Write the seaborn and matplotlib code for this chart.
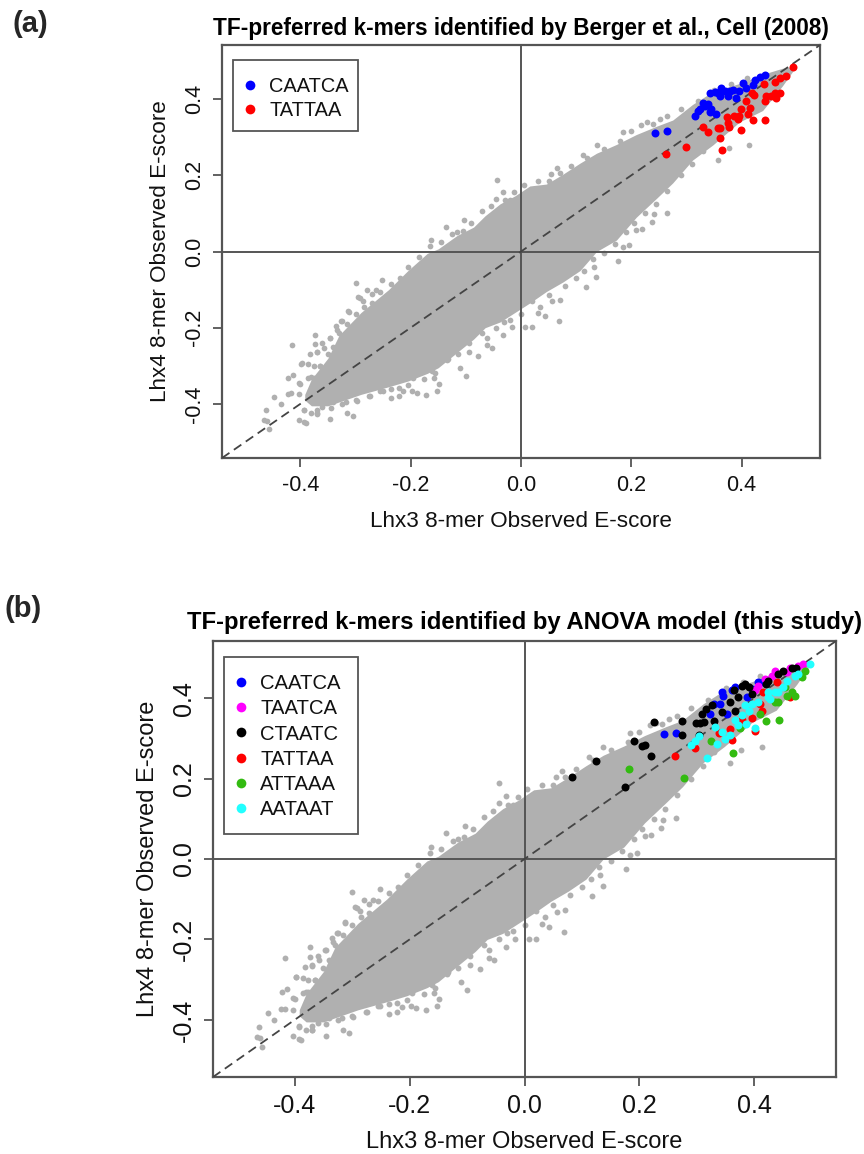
#!/usr/bin/env python3
"""Lhx3 vs Lhx4 8-mer E-scores, two panels, TF-preferred k-mers highlighted.

Grey cloud is the same data in both panels: an envelope read off the picture
plus the loose dots around its rim.
"""

import matplotlib.lines as mlines
import matplotlib.patches as mpatches
import matplotlib.pyplot as plt
import pandas as pd
import seaborn as sns

# envelope of the dense grey cloud
CLOUD_X = [-0.392, -0.38, -0.35, -0.33, -0.29, -0.24, -0.205, -0.17, -0.15, -0.116, -0.086,
           -0.065, -0.038, -0.011, 0.016, 0.046, 0.076, 0.107, 0.137, 0.173, 0.209,
           0.246, 0.275, 0.311, 0.348, 0.396, 0.438, 0.474, 0.496]
CLOUD_UPPER = [-0.375, -0.335, -0.28, -0.22, -0.16, -0.10, -0.05, -0.005, 0.007, 0.042, 0.064,
               0.094, 0.125, 0.146, 0.172, 0.177, 0.203, 0.232, 0.258, 0.281, 0.307,
               0.329, 0.345, 0.386, 0.42, 0.441, 0.465, 0.481, 0.486]
CLOUD_LOWER = [-0.39, -0.405, -0.405, -0.395, -0.375, -0.355, -0.34, -0.32, -0.305, -0.265, -0.23,
               -0.20, -0.185, -0.16, -0.135, -0.105, -0.08, -0.05, 0.0, 0.03, 0.09,
               0.14, 0.18, 0.24, 0.28, 0.34, 0.37, 0.435, 0.48]

# dots on the rim of the cloud
EDGE_X = [-0.38, -0.365, -0.35, -0.34, -0.33, -0.315, -0.30, -0.285, -0.27, -0.255,
          -0.235, -0.22, -0.205, -0.185, -0.165, -0.145, -0.125, -0.105, -0.09, -0.07,
          -0.055, -0.02, -0.012, 0.005, 0.03, 0.05, 0.07, 0.09, 0.12, 0.15,
          0.18, 0.20, 0.24, 0.265, 0.29, 0.32, 0.35, 0.38, 0.41,
          -0.37, -0.345, -0.325, -0.30, -0.275, -0.255, -0.235, -0.205, -0.175, -0.155,
          -0.135, -0.115, -0.095, -0.07, -0.045, -0.02, 0.0, 0.02, 0.05, 0.08,
          0.10, 0.115, 0.13, 0.15, 0.17, 0.19, 0.205, 0.225, 0.245, 0.265,
          0.29, 0.31, 0.33,
          -0.402, -0.386, -0.376, -0.398, -0.386, -0.376, -0.364, -0.369, -0.358, -0.36,
          -0.346, -0.334, -0.326, -0.312, -0.291, -0.403, -0.393, -0.381, -0.369, -0.36,
          -0.341, -0.317, -0.298, -0.274, -0.251, -0.222, -0.196, -0.161, -0.133, -0.095,
          -0.061, -0.031]
EDGE_Y = [-0.33, -0.30, -0.27, -0.25, -0.215, -0.19, -0.165, -0.145, -0.135, -0.105,
          -0.085, -0.07, -0.04, -0.015, 0.015, 0.025, 0.045, 0.055, 0.075, 0.105,
          0.12, 0.135, 0.155, 0.175, 0.185, 0.185, 0.205, 0.225, 0.245, 0.27,
          0.29, 0.315, 0.335, 0.355, 0.375, 0.395, 0.425, 0.44, 0.455,
          -0.415, -0.41, -0.40, -0.39, -0.38, -0.365, -0.36, -0.35, -0.335, -0.32,
          -0.285, -0.27, -0.24, -0.215, -0.20, -0.18, -0.165, -0.13, -0.115, -0.09,
          -0.07, -0.05, -0.02, -0.005, 0.02, 0.05, 0.075, 0.10, 0.125, 0.16,
          0.20, 0.23, 0.265,
          -0.346, -0.333, -0.331, -0.294, -0.296, -0.301, -0.301, -0.264, -0.252, -0.24,
          -0.227, -0.207, -0.183, -0.158, -0.123, -0.375, -0.417, -0.425, -0.425, -0.407,
          -0.395, -0.395, -0.393, -0.38, -0.365, -0.358, -0.333, -0.314, -0.281, -0.264,
          -0.227, -0.185]

# loose outliers
LOOSE_X = [-0.462, -0.466, -0.46, -0.456, -0.447, -0.435, -0.423, -0.417, -0.422, -0.414,
           -0.416, -0.402, -0.393, -0.393, -0.389, -0.346, -0.315, -0.305, -0.37, -0.40,
           -0.397, -0.382, -0.373, -0.373, -0.37, -0.347, -0.335, -0.325, -0.313, -0.30,
           -0.295, -0.286, -0.279, -0.27, -0.263, -0.252, -0.236, -0.221, -0.213, -0.198,
           -0.188, -0.172, -0.153, -0.148, -0.157, -0.11, -0.10, -0.078, -0.053, -0.062,
           -0.044, -0.033, -0.045, -0.029, -0.103, -0.136, -0.116, -0.163, 0.054, 0.065,
           0.112, 0.137, 0.184, 0.218, 0.069, 0.043, 0.035, 0.031, 0.057, 0.07,
           0.118, 0.136, 0.132, 0.176, 0.184, 0.195, 0.209, 0.22, 0.238, 0.241,
           0.264, 0.02, 0.007, -0.033, -0.017, 0.357, 0.413, 0.377, 0.252, 0.228]
LOOSE_Y = [-0.417, -0.443, -0.446, -0.467, -0.383, -0.40, -0.373, -0.372, -0.331, -0.324,
           -0.245, -0.441, -0.415, -0.448, -0.45, -0.439, -0.424, -0.433, -0.426, -0.348,
           -0.293, -0.268, -0.218, -0.244, -0.265, -0.227, -0.196, -0.183, -0.157, -0.082,
           -0.12, -0.129, -0.102, -0.112, -0.102, -0.074, -0.385, -0.38, -0.367, -0.365,
           -0.371, -0.376, -0.365, -0.348, -0.333, -0.306, -0.326, -0.274, -0.252, -0.245,
           0.188, 0.156, 0.138, 0.135, 0.083, 0.065, 0.05, 0.031, 0.204, 0.219,
           0.253, 0.279, 0.313, 0.333, -0.182, -0.17, -0.145, -0.161, -0.131, -0.128,
           -0.093, -0.067, -0.041, -0.024, 0.011, 0.016, 0.057, 0.059, 0.078, 0.098,
           0.102, -0.198, -0.198, -0.22, -0.198, 0.239, 0.279, 0.271, 0.349, 0.339]

# panel (a) k-mers
A_CAATCA_X = [0.243, 0.264, 0.315, 0.321, 0.330, 0.339, 0.345, 0.353, 0.343, 0.342, 0.351, 0.363, 0.369, 0.375,
              0.360, 0.384, 0.390, 0.396, 0.402, 0.408, 0.424, 0.433, 0.442, 0.420, 0.357, 0.378, 0.333, 0.324]
A_CAATCA_Y = [0.312, 0.316, 0.355, 0.368, 0.390, 0.386, 0.373, 0.361, 0.366, 0.416, 0.419, 0.429, 0.420, 0.407,
              0.407, 0.425, 0.403, 0.420, 0.442, 0.429, 0.451, 0.457, 0.464, 0.438, 0.416, 0.420, 0.381, 0.373]
A_TATTAA_X = [0.262, 0.299, 0.33, 0.339, 0.357, 0.36, 0.361, 0.364, 0.374, 0.375, 0.377, 0.387, 0.395, 0.399, 0.393, 0.411, 0.416,
              0.42, 0.443, 0.399, 0.407, 0.418, 0.422, 0.443, 0.445, 0.454, 0.46, 0.469, 0.463, 0.46, 0.469, 0.481, 0.44, 0.493]
A_TATTAA_Y = [0.257, 0.275, 0.327, 0.314, 0.323, 0.323, 0.297, 0.266, 0.352, 0.338, 0.326, 0.355, 0.355, 0.373, 0.349, 0.362, 0.377,
              0.345, 0.346, 0.319, 0.396, 0.416, 0.412, 0.394, 0.407, 0.407, 0.416, 0.416, 0.403, 0.446, 0.455, 0.461, 0.439, 0.483]

# panel (b) k-mers
B_CAATCA_X = [0.242, 0.263, 0.323, 0.329, 0.340, 0.343, 0.352, 0.361, 0.366, 0.387, 0.407, 0.415, 0.395, 0.346]
B_CAATCA_Y = [0.310, 0.314, 0.361, 0.386, 0.386, 0.415, 0.361, 0.419, 0.427, 0.402, 0.439, 0.439, 0.423, 0.406]
B_TAATCA_X = [0.401, 0.407, 0.418, 0.430, 0.436, 0.456, 0.476, 0.485, 0.462]
B_TAATCA_Y = [0.419, 0.431, 0.447, 0.456, 0.468, 0.464, 0.480, 0.486, 0.476]
B_CTAATC_X = [0.082, 0.125, 0.175, 0.190, 0.205, 0.209, 0.220, 0.226, 0.274, 0.274, 0.303, 0.299, 0.306, 0.313, 0.309, 0.315, 0.329,
              0.326, 0.358, 0.343, 0.366, 0.372, 0.364, 0.378, 0.384, 0.390, 0.395, 0.421, 0.424, 0.441, 0.450, 0.465, 0.473]
B_CTAATC_Y = [0.203, 0.243, 0.178, 0.293, 0.281, 0.283, 0.256, 0.340, 0.344, 0.308, 0.308, 0.338, 0.338, 0.340, 0.361, 0.373, 0.342,
              0.382, 0.390, 0.365, 0.367, 0.402, 0.419, 0.431, 0.435, 0.427, 0.409, 0.435, 0.443, 0.460, 0.468, 0.474, 0.476]
B_TATTAA_X = [0.261, 0.297, 0.338, 0.358, 0.361, 0.395, 0.401, 0.410, 0.415, 0.378, 0.439, 0.462, 0.413]
B_TATTAA_Y = [0.256, 0.275, 0.314, 0.322, 0.295, 0.350, 0.317, 0.386, 0.415, 0.345, 0.439, 0.402, 0.369]
B_ATTAAA_X = [0.181, 0.278, 0.325, 0.363, 0.420, 0.443, 0.410, 0.375, 0.436, 0.441, 0.456, 0.465, 0.470, 0.453, 0.482, 0.488]
B_ATTAAA_Y = [0.224, 0.201, 0.294, 0.264, 0.342, 0.345, 0.361, 0.326, 0.390, 0.390, 0.406, 0.415, 0.406, 0.427, 0.452, 0.468]
B_AATAAT_X = [0.317, 0.290, 0.296, 0.303, 0.331, 0.343, 0.335, 0.348, 0.358, 0.366, 0.372, 0.378, 0.385, 0.384,
              0.395, 0.390, 0.401, 0.424, 0.427, 0.436, 0.441, 0.450, 0.456, 0.470, 0.476, 0.496, 0.424, 0.407]
B_AATAAT_Y = [0.250, 0.283, 0.293, 0.305, 0.328, 0.316, 0.285, 0.298, 0.308, 0.345, 0.332, 0.357, 0.336, 0.382,
              0.386, 0.369, 0.326, 0.415, 0.398, 0.415, 0.415, 0.427, 0.443, 0.456, 0.460, 0.484, 0.402, 0.390]

TICKS = [-0.4, -0.2, 0.0, 0.2, 0.4]
TICK_LABELS = ["-0.4", "-0.2", "0.0", "0.2", "0.4"]
LIM = (-0.542, 0.542)
GREY = "#B0B0B0"
LINE = "#555555"
TEXT = "#111111"
WIDTH, HEIGHT = 864, 1154

PANEL_A = [("CAATCA", A_CAATCA_X, A_CAATCA_Y, "#0000FF"),
           ("TATTAA", A_TATTAA_X, A_TATTAA_Y, "#FF0000")]
PANEL_B = [("CAATCA", B_CAATCA_X, B_CAATCA_Y, "#0000FF"),
           ("TAATCA", B_TAATCA_X, B_TAATCA_Y, "#FF00FF"),
           ("CTAATC", B_CTAATC_X, B_CTAATC_Y, "#000000"),
           ("TATTAA", B_TATTAA_X, B_TATTAA_Y, "#FF0000"),
           ("ATTAAA", B_ATTAAA_X, B_ATTAAA_Y, "#33BB11"),
           ("AATAAT", B_AATAAT_X, B_AATAAT_Y, "#22FFFF")]


def add_axes_px(fig, left, right, top, bottom):
    return fig.add_axes([left / WIDTH, 1 - bottom / HEIGHT,
                         (right - left) / WIDTH, (bottom - top) / HEIGHT])


def draw_panel(ax, groups, title, tick_size, label_size, title_size, legend_size,
               legend_box, legend_spacing, dot, grey_dot, xpad, ypad, title_pad):
    ax.fill_between(CLOUD_X, CLOUD_LOWER, CLOUD_UPPER, color=GREY, linewidth=0, zorder=1)
    rim = pd.DataFrame({"x": EDGE_X + LOOSE_X, "y": EDGE_Y + LOOSE_Y})
    sns.scatterplot(data=rim, x="x", y="y", color=GREY, s=grey_dot, linewidth=0, ax=ax, zorder=2)

    ax.axhline(0, color=LINE, linewidth=1.4, zorder=3)
    ax.axvline(0, color=LINE, linewidth=1.4, zorder=3)
    ax.plot(LIM, LIM, color="#444444", linewidth=1.3, dashes=(5, 3), zorder=3)

    for name, xs, ys, color in groups:
        df = pd.DataFrame({"x": xs, "y": ys})
        sns.scatterplot(data=df, x="x", y="y", color=color, s=dot, linewidth=0, ax=ax, zorder=4)

    ax.set_xlim(LIM)
    ax.set_ylim(LIM)
    ax.set_xticks(TICKS, TICK_LABELS)
    ax.set_yticks(TICKS, TICK_LABELS)
    ax.tick_params(axis="both", length=6.5, width=1.3, color=LINE, labelcolor=TEXT,
                   labelsize=tick_size, pad=6)
    ax.tick_params(axis="y", labelrotation=90)
    for lab in ax.get_yticklabels():
        lab.set_va("center")
    for spine in ax.spines.values():
        spine.set_visible(True)
        spine.set_color(LINE)
        spine.set_linewidth(1.6)

    ax.set_xlabel("Lhx3 8-mer Observed E-score", fontsize=label_size, color=TEXT, labelpad=xpad)
    ax.set_ylabel("Lhx4 8-mer Observed E-score", fontsize=label_size, color=TEXT, labelpad=ypad)
    ax.set_title(title, fontsize=title_size, fontweight="bold", color="#000000", pad=title_pad)

    # frame drawn by hand, the padding in the picture is not even on all sides
    left, right, top, bottom = legend_box
    frame = mpatches.Rectangle((left / WIDTH, 1 - bottom / HEIGHT),
                               (right - left) / WIDTH, (bottom - top) / HEIGHT,
                               transform=ax.figure.transFigure, facecolor="white",
                               edgecolor=LINE, linewidth=1.3, zorder=5)
    ax.add_patch(frame)

    handles = [mlines.Line2D([], [], linestyle="", marker="o", markersize=7,
                             markerfacecolor=color, markeredgewidth=0, label=name)
               for name, _x, _y, color in groups]
    leg = ax.legend(handles=handles, loc="upper left",
                    bbox_to_anchor=((left + 7) / WIDTH, 1 - (top + 17) / HEIGHT),
                    bbox_transform=ax.figure.transFigure, borderaxespad=0, borderpad=0,
                    frameon=False, fontsize=legend_size, labelcolor=TEXT,
                    labelspacing=legend_spacing, handlelength=1, handletextpad=0.45)
    leg.set_zorder(6)


def main() -> None:
    sns.set_theme(style="ticks")
    plt.rcParams["font.family"] = ["Liberation Sans", "DejaVu Sans"]

    fig = plt.figure(figsize=(WIDTH / 100, HEIGHT / 100), dpi=100)

    ax_a = add_axes_px(fig, 222, 820, 45, 458)
    draw_panel(ax_a, PANEL_A, "TF-preferred k-mers identified by Berger et al., Cell (2008)",
               tick_size=15.5, label_size=16.2, title_size=16.3, legend_size=14.4,
               legend_box=(233, 358, 60, 131), legend_spacing=0.25, dot=33, grey_dot=17,
               xpad=10.5, ypad=9, title_pad=7)

    ax_b = add_axes_px(fig, 213, 836, 641, 1077)
    draw_panel(ax_b, PANEL_B, "TF-preferred k-mers identified by ANOVA model (this study)",
               tick_size=18, label_size=17, title_size=17.2, legend_size=14.6,
               legend_box=(224, 358, 657, 834), legend_spacing=0.31, dot=33, grey_dot=18,
               xpad=9, ypad=9, title_pad=9)

    fig.text(13 / WIDTH, 1 - 24 / HEIGHT, "(a)", fontsize=21, fontweight="bold", va="center")
    fig.text(4 / WIDTH, 1 - 609 / HEIGHT, "(b)", fontsize=21, fontweight="bold", va="center")

    fig.savefig("out.png", dpi=100)
    plt.close(fig)


if __name__ == "__main__":
    main()
